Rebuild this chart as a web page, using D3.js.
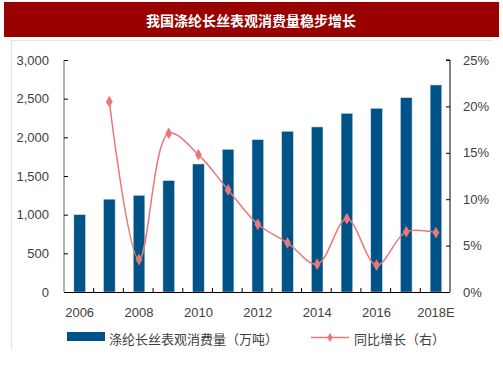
<!DOCTYPE html>
<html><head><meta charset="utf-8">
<script src="https://cdn.jsdelivr.net/npm/d3@7"></script>
<style>body{margin:0;background:#fff;} svg{display:block;}</style>
</head><body>
<svg id="c" width="503" height="378"></svg>
<script>
const title = "我国涤纶长丝表观消费量稳步增长";
const categories = ["2006","2007","2008","2009","2010","2011","2012","2013","2014","2015","2016","2017","2018E"];
const consumption = [1000,1200,1250,1440,1655,1845,1970,2078,2134,2310,2375,2513,2677];
const growth = [null,20.5,3.5,17.1,14.8,11.0,7.3,5.3,3.0,7.9,2.9,6.5,6.4];
const leftTicks = [0,500,1000,1500,2000,2500,3000];
const rightTicks = [0,5,10,15,20,25];
const xLabels = ["2006","2008","2010","2012","2014","2016","2018E"];
const legendBar = "涤纶长丝表观消费量（万吨）";
const legendLine = "同比增长（右）";

const svg = d3.select("#c");
const font = "'Liberation Sans', Arial, sans-serif";
const cjk = "'Noto Sans CJK SC', sans-serif";
const textColor = "#404040";

// header
svg.append("rect").attr("x",4).attr("y",2).attr("width",495).attr("height",35).attr("fill","#990000");
svg.append("text").attr("x",251).attr("y",20).attr("text-anchor","middle").attr("dominant-baseline","central")
  .attr("fill","#fff").attr("font-family",cjk).attr("font-weight","bold").attr("font-size",14).text(title);
// frame lines
svg.append("line").attr("x1",11).attr("x2",493).attr("y1",40.5).attr("y2",40.5).attr("stroke","#e3e3e3");
svg.append("line").attr("x1",11.5).attr("x2",11.5).attr("y1",40).attr("y2",350).attr("stroke","#e3e3e3");

const L=64, R=450, T=60, B=292;
const x = d3.scaleBand().domain(categories).range([L,R]).paddingInner(0).paddingOuter(0);
const yL = d3.scaleLinear().domain([0,3000]).range([B,T]);
const yR = d3.scaleLinear().domain([0,25]).range([B,T]);
const bw = x.bandwidth()*0.39;

// bars
svg.append("g").selectAll("rect").data(categories).join("rect")
  .attr("x",(d)=>x(d)+x.bandwidth()/2-bw/2+0.8)
  .attr("y",(d,i)=>yL(consumption[i]))
  .attr("width",bw)
  .attr("height",(d,i)=>B-yL(consumption[i]))
  .attr("fill","#005387").attr("stroke","#cfe0ea").attr("stroke-width",0.5);

// left axis
const gL = svg.append("g").attr("transform",`translate(${L},0)`)
  .call(d3.axisRight(yL).tickValues(leftTicks).tickSize(4).tickFormat(""));
gL.select(".domain").attr("stroke","#666").attr("d",`M0,${T}V${B}`);
gL.selectAll(".tick line").attr("stroke","#000");
svg.append("g").selectAll("text").data(leftTicks).join("text")
  .attr("x",49).attr("y",d=>yL(d)).attr("text-anchor","end").attr("dominant-baseline","central")
  .attr("font-family",font).attr("font-size",13).attr("fill",textColor)
  .text(d=>d3.format(",")(d));

// right axis
const gR = svg.append("g").attr("transform",`translate(${R},0)`)
  .call(d3.axisLeft(yR).tickValues(rightTicks).tickSize(4).tickFormat(""));
gR.select(".domain").attr("stroke","#000").attr("d",`M-4,${T}H0V${B}`);
gR.selectAll(".tick line").attr("stroke","#000");
svg.append("g").selectAll("text").data(rightTicks).join("text")
  .attr("x",463).attr("y",d=>yR(d)).attr("text-anchor","start").attr("dominant-baseline","central")
  .attr("font-family",font).attr("font-size",13).attr("fill",textColor)
  .text(d=>d+"%");

// bottom axis
const bounds = categories.slice(1).map(c=>x(c));
svg.append("line").attr("x1",L).attr("x2",R).attr("y1",B+0.5).attr("y2",B+0.5).attr("stroke","#000").attr("stroke-width",1.2);
svg.append("g").selectAll("line").data(bounds).join("line")
  .attr("x1",d=>d).attr("x2",d=>d).attr("y1",B).attr("y2",B-4).attr("stroke","#000");
svg.append("g").selectAll("text").data(xLabels).join("text")
  .attr("x",d=>x(d)+x.bandwidth()/2+0.8).attr("y",312).attr("text-anchor","middle").attr("dominant-baseline","central")
  .attr("font-family",font).attr("font-size",13).attr("fill",textColor).text(d=>d);

// growth line
const lineColor = "#e8787a";
const pts = categories.map((c,i)=>({c,v:growth[i]})).filter(d=>d.v!==null);
const line = d3.line().x(d=>x(d.c)+x.bandwidth()/2+0.8).y(d=>yR(d.v)).curve(d3.curveCatmullRom.alpha(0.5));
svg.append("path").datum(pts).attr("d",line).attr("fill","none").attr("stroke",lineColor).attr("stroke-width",1.5);
const diamond = d3.symbol().type(d3.symbolDiamond).size(40);
svg.append("g").selectAll("path").data(pts).join("path")
  .attr("transform",d=>`translate(${x(d.c)+x.bandwidth()/2+0.8},${yR(d.v)})`)
  .attr("d",diamond).attr("fill",lineColor);

// legend
svg.append("rect").attr("x",67).attr("y",332).attr("width",38).attr("height",9).attr("fill","#005387");
svg.append("text").attr("x",109).attr("y",338).attr("dominant-baseline","central")
  .attr("font-family",cjk).attr("font-size",13).attr("fill",textColor).text(legendBar);
svg.append("line").attr("x1",311).attr("x2",349).attr("y1",337.5).attr("y2",337.5).attr("stroke",lineColor).attr("stroke-width",1.5);
svg.append("path").attr("transform","translate(330,337.5)").attr("d",d3.symbol().type(d3.symbolDiamond).size(25)).attr("fill",lineColor);
svg.append("text").attr("x",354).attr("y",338).attr("dominant-baseline","central")
  .attr("font-family",cjk).attr("font-size",13).attr("fill",textColor).text(legendLine);
</script>
</body></html>
